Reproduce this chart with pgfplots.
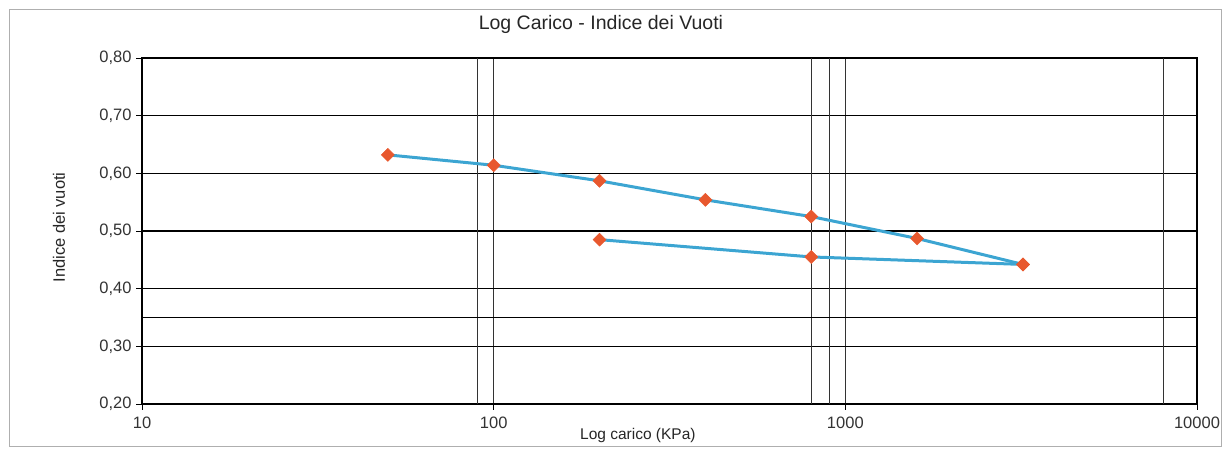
\documentclass[border=0pt]{standalone}
\usepackage{pgfplots}
\pgfplotsset{compat=1.18}
\usepackage{fontspec}
\setmainfont{Liberation Sans}
\definecolor{lineblue}{RGB}{60,165,210}
\definecolor{markred}{RGB}{232,88,46}
\definecolor{framegray}{RGB}{175,175,175}
\begin{document}
\begin{tikzpicture}[x=1bp,y=1bp]
\path (0,0) rectangle (1228,450);
\draw[framegray, line width=1bp] (9,3) rectangle (1221,440);
\begin{axis}[
  at={(142bp,46bp)}, anchor=south west,
  scale only axis, width=1055bp, height=346bp,
  xmode=log, log basis x=10,
  xmin=10, xmax=10000, ymin=0.2, ymax=0.8,
  xtick={10,100,1000,10000},
  xticklabels={10,100,1000,10000},
  ytick={0.2,0.3,0.4,0.5,0.6,0.7,0.8},
  yticklabels={{0,20},{0,30},{0,40},{0,50},{0,60},{0,70},{0,80}},
  minor xtick={}, xminorticks=false,
  tick align=outside, major tick length=6bp,
  xtick pos=bottom, ytick pos=left,
  tick style={black, line width=0.8bp},
  axis line style={black, line width=1.4bp},
  xmajorgrids, ymajorgrids,
  x grid style={black!80, line width=0.7bp},
  y grid style={black, line width=1.2bp},
  extra y ticks={0.35}, extra y tick labels={},
  extra y tick style={grid=major, major grid style={black!55, line width=0.8bp}, tick style={draw=none}},
  extra x ticks={90,800,900,8000}, extra x tick labels={},
  extra x tick style={grid=major, major grid style={black!70, line width=0.6bp}, tick style={draw=none}},
  ticklabel style={font=\fontsize{16.5bp}{19bp}\selectfont, text=black!80},
  yticklabel style={anchor=east, xshift=-1bp},
  xticklabel style={anchor=north, yshift=-3bp},
  title={Log Carico - Indice dei Vuoti},
  title style={at={(axis description cs:0.435,1.081)}, anchor=center, font=\fontsize{19.5bp}{22bp}\selectfont, text=black!85},
  xlabel={Log carico (KPa)},
  xlabel style={at={(axis description cs:0.470,-0.0896)}, anchor=center, font=\fontsize{15.5bp}{18bp}\selectfont, text=black!85},
  ylabel={Indice dei vuoti},
  ylabel style={at={(axis description cs:-0.0787,0.51)}, anchor=center, font=\fontsize{16.5bp}{19bp}\selectfont, text=black!85},
  clip=false,
]
\addplot[color=lineblue, line width=3bp, mark=square*, mark size=4.6bp,
  mark options={fill=markred, draw=markred, line width=0.5bp, rotate=45}]
  coordinates {(50,0.632) (100,0.614) (200,0.587) (400,0.554) (800,0.525) (1600,0.487) (3200,0.442)};
\addplot[color=lineblue, line width=3bp, mark=square*, mark size=4.6bp,
  mark options={fill=markred, draw=markred, line width=0.5bp, rotate=45}]
  coordinates {(3200,0.442) (800,0.455) (200,0.485)};
\end{axis}
\end{tikzpicture}
\end{document}
